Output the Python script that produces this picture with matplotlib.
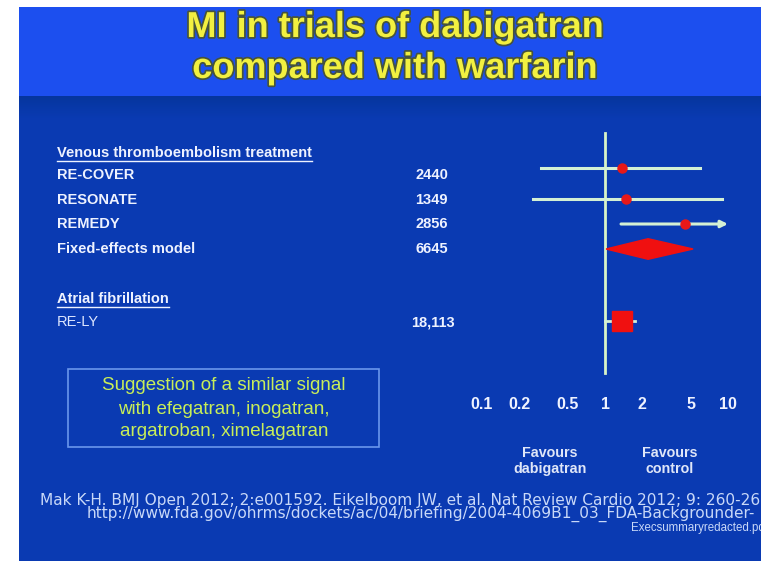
import numpy as np
import matplotlib
matplotlib.use("Agg")
import matplotlib.pyplot as plt
import matplotlib.patheffects as pe
from matplotlib.lines import Line2D
from matplotlib.patches import Rectangle, Polygon

plt.rcParams['font.family'] = ['Liberation Sans', 'DejaVu Sans']

# data
title = "MI in trials of dabigatran\ncompared with warfarin"
vte_heading = "Venous thromboembolism treatment"
af_heading = "Atrial fibrillation"
vte_trials = ["RE-COVER", "RESONATE", "REMEDY"]
vte_n = ["2440", "1349", "2856"]
vte_est = [1.37, 1.48, 4.47]
vte_lo = [0.30, 0.26, 1.35]
vte_hi = [5.9, 8.9, 10.0]
vte_arrow = [False, False, True]
pooled_label = "Fixed-effects model"
pooled_n = "6645"
pooled_est, pooled_lo, pooled_hi = 2.24, 1.02, 5.2
af_trial = "RE-LY"
af_n = "18,113"
af_est, af_lo, af_hi = 1.38, 1.0, 1.75
xticks = [0.1, 0.2, 0.5, 1, 2, 5, 10]
xtick_labels = ["0.1", "0.2", "0.5", "1", "2", "5", "10"]
box_lines = ["Suggestion of a similar signal",
             "with efegatran, inogatran,",
             "argatroban, ximelagatran"]
refs = ["Mak K-H. BMJ Open 2012; 2:e001592. Eikelboom JW, et al. Nat Review Cardio 2012; 9: 260-268",
        "http://www.fda.gov/ohrms/dockets/ac/04/briefing/2004-4069B1_03_FDA-Backgrounder-",
        "Execsummaryredacted.pdf"]

W, H = 761, 561
fig = plt.figure(figsize=(W / 100, H / 100), dpi=100)
fig.patch.set_facecolor("white")


def fx(px):
    return px / W


def fy(py):
    return 1 - py / H


# slide background
bg = fig.add_axes([fx(19), 0, fx(W - 19), 1 - 7 / H])
bg.set_axis_off()
rows = np.arange(7, H)
header = np.array([0.11, 0.31, 0.94])
band = np.array([0.02, 0.21, 0.62])
main = np.array([0.04, 0.23, 0.70])
img = np.zeros((len(rows), 1, 3))
for i, r in enumerate(rows):
    if r < 96:
        c = header
    elif r < 118:
        t = (r - 96) / 22
        c = band * (1 - t) + main * t
    else:
        c = main
    img[i, 0] = c
bg.imshow(img, aspect="auto", extent=[0, 1, 0, 1], origin="upper")
bg.set_xlim(0, 1)
bg.set_ylim(0, 1)

# title
fig.text(fx(395), fy(48), title, ha="center", va="center", fontsize=26,
         fontweight="bold", color="#f2f040", linespacing=1.22,
         path_effects=[pe.withStroke(linewidth=2.5, foreground="#46543c")])

# left text column
lab_x = fx(57)
row_y = lambda r: 175.5 + 24.5 * r
lab_kw = dict(fontsize=10.5, fontweight="bold", color="#eef2ff", va="center")

fig.canvas.draw()
renderer = fig.canvas.get_renderer()


def underlined(x, py, s):
    t = fig.text(x, fy(py), s, ha="left", **lab_kw)
    bb = t.get_window_extent(renderer)
    yline = (bb.y0 - 1) / (H)
    fig.add_artist(Line2D([bb.x0 / W, bb.x1 / W], [yline, yline],
                          color="#eef2ff", lw=1.0))


underlined(lab_x, 153, vte_heading)
for i, (name, n) in enumerate(zip(vte_trials, vte_n)):
    fig.text(lab_x, fy(row_y(i)), name, ha="left", **lab_kw)
    fig.text(fx(448), fy(row_y(i)), n, ha="right", **lab_kw)
fig.text(lab_x, fy(row_y(3)), pooled_label, ha="left", **lab_kw)
fig.text(fx(448), fy(row_y(3)), pooled_n, ha="right", **lab_kw)
underlined(lab_x, 299, af_heading)
fig.text(lab_x, fy(row_y(6)), af_trial, ha="left", fontsize=10.5,
         color="#dde6ff", va="center")
fig.text(fx(455), fy(row_y(6)), af_n, ha="right", **lab_kw)

# forest plot
top_px, bot_px = 128, 375
ax = fig.add_axes([fx(482), fy(bot_px), fx(728 - 482), (bot_px - top_px) / H])
ax.set_facecolor("none")
ax.set_xscale("log")
ax.set_xlim(0.1, 10)
ax.set_ylim((bot_px - 175.5) / 24.5, (top_px - 175.5) / 24.5)
for s in ax.spines.values():
    s.set_visible(False)
ax.set_yticks([])
ax.set_xticks(xticks)
ax.set_xticklabels(xtick_labels)
ax.minorticks_off()
ax.tick_params(axis="x", length=0, pad=16, labelsize=11.5, labelcolor="#eef2ff")
for lbl in ax.get_xticklabels():
    lbl.set_fontweight("bold")

line_col = "#d4f0d4"
ax.axvline(1, ymin=0.01, ymax=0.98, color="#d8f4c8", lw=2, zorder=2)

vte_rows = [-0.31, 0.96, 1.98]
for yy, e, lo, hi, arr in zip(vte_rows, vte_est, vte_lo, vte_hi, vte_arrow):
    if arr:
        ax.annotate("", xy=(hi, yy), xytext=(lo, yy),
                    arrowprops=dict(arrowstyle="-|>", color=line_col, lw=2.2,
                                    mutation_scale=10, shrinkA=0, shrinkB=0))
    else:
        ax.plot([lo, hi], [yy, yy], color=line_col, lw=2.2, zorder=3)
    ax.plot(e, yy, "o", color="#e81818", ms=6.5, zorder=4)

# pooled diamond
pr = 3.0
ax.add_patch(Polygon([[pooled_lo, pr], [pooled_est, pr - 0.42],
                      [pooled_hi, pr], [pooled_est, pr + 0.42]],
                     closed=True, color="#f01010", zorder=4))

# RE-LY
ar = 5.94
ax.plot([af_lo, af_hi], [ar, ar], color=line_col, lw=2, zorder=3)
ax.plot(af_est, ar, "s", color="#f01010", ms=15, zorder=4)

# favours labels
fav_kw = dict(ha="center", va="center", fontsize=10.3, fontweight="bold",
              color="#dfe6f8", linespacing=1.25)
fig.text(fx(550), fy(461), "Favours\ndabigatran", **fav_kw)
fig.text(fx(670), fy(461), "Favours\ncontrol", **fav_kw)

# suggestion box
fig.add_artist(Rectangle((fx(68), fy(447)), fx(379 - 68), (447 - 369) / H,
                         fill=False, edgecolor="#6a96ec", lw=1.2))
for yy, s in zip([385, 409, 432], box_lines):
    fig.text(fx(224), fy(yy), s, ha="center", va="center", fontsize=13.5,
             color="#c8ee58")

# references (the slide cuts them off at its right edge)
ref_kw = dict(color="#c8d8f8", va="center", ha="left")
fig.text(fx(40), fy(500), refs[0], fontsize=11.1, family="DejaVu Sans", **ref_kw)
fig.text(fx(87), fy(514), refs[1], fontsize=11.1, family="DejaVu Sans", **ref_kw)
fig.text(fx(631), fy(528), refs[2], fontsize=8.3, **ref_kw)

fig.savefig("out.png", dpi=100)
